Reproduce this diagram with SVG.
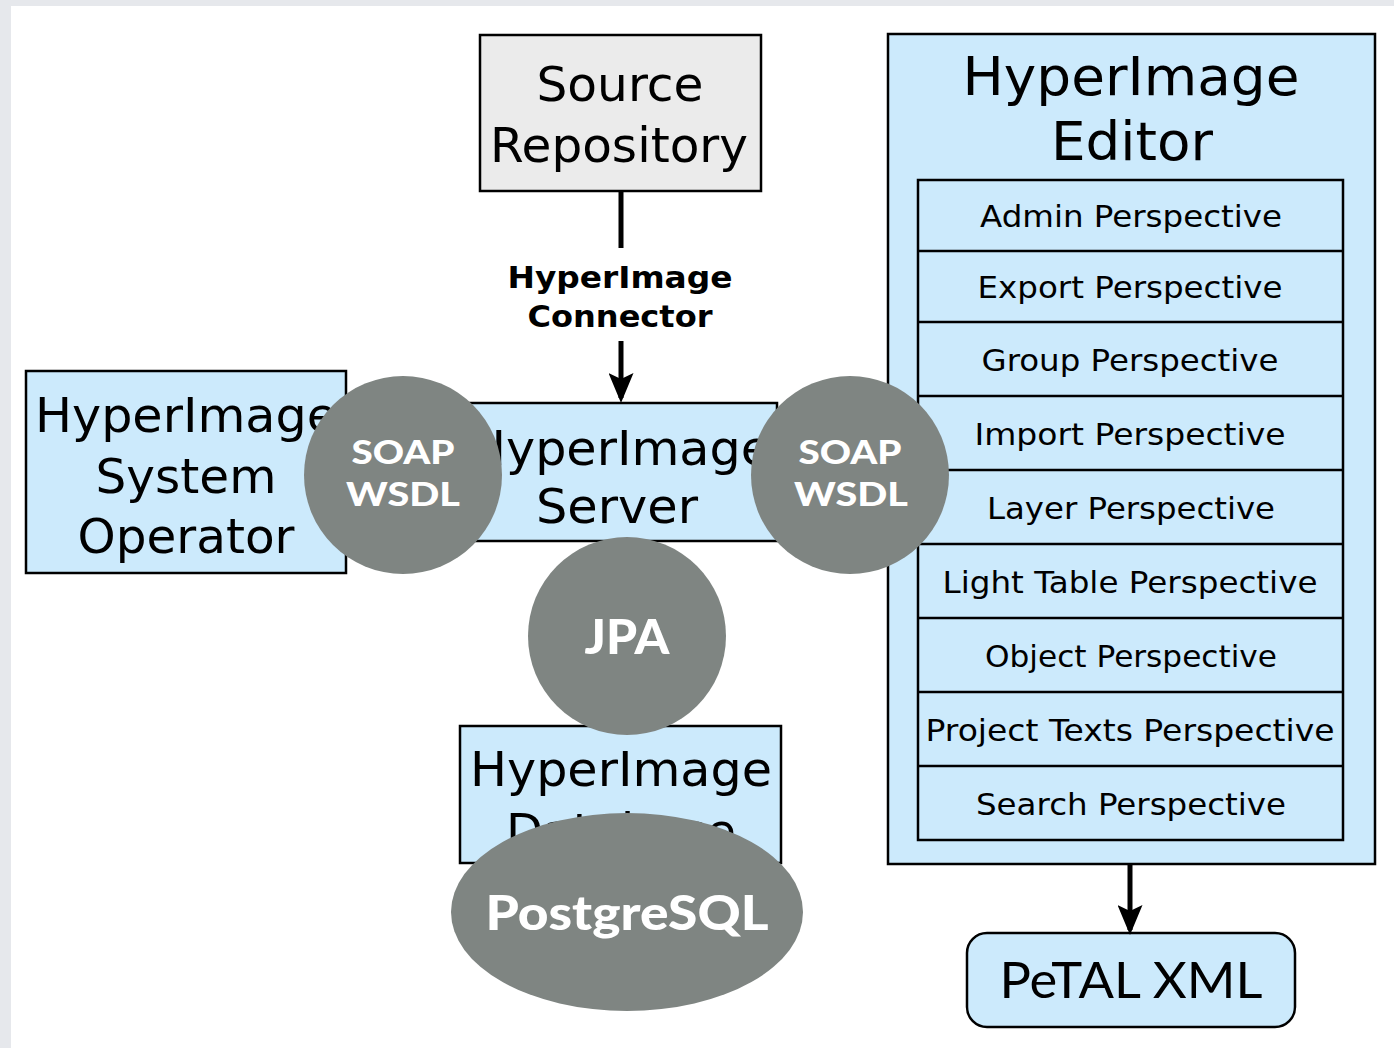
<svg xmlns="http://www.w3.org/2000/svg" width="1394" height="1048" viewBox="0 0 1394 1048">
<style>
.box{fill:#cceafc;stroke:#000;stroke-width:2.5}
.t{font-family:"DejaVu Sans",Verdana,sans-serif;fill:#000;text-anchor:middle}
.big{font-size:48px}
.mid{font-size:30px}
.bold{font-weight:bold;font-size:31px}
.blob{fill:#7f8582}
.w{font-family:Lato,"Open Sans",sans-serif;font-weight:900;fill:#fff;text-anchor:middle}
.ln{stroke:#000;stroke-width:5;fill:none}
</style>
<defs>
<marker id="ah" markerWidth="6" markerHeight="5" refX="5" refY="2.5" orient="auto" markerUnits="strokeWidth">
<path d="M0,0 L6,2.5 L0,5 L1.2,2.5 Z" fill="#000"/>
</marker>
</defs>
<rect x="0" y="0" width="1394" height="1048" fill="#e6e8ec"/>
<rect x="11" y="6" width="1383" height="1042" fill="#fff"/>

<g id="source">
<rect x="480" y="35" width="281" height="156" fill="#ebebeb" stroke="#000" stroke-width="2.5"/>
<text class="t big" x="620" y="101" textLength="167" lengthAdjust="spacingAndGlyphs">Source</text>
<text class="t big" x="619" y="162" textLength="258" lengthAdjust="spacingAndGlyphs">Repository</text>
</g>

<g id="editor">
<rect class="box" x="888" y="34" width="487" height="830"/>
<text class="t" style="font-size:54px" x="1131" y="95" textLength="337" lengthAdjust="spacingAndGlyphs">HyperImage</text>
<text class="t" style="font-size:54px" x="1132" y="160" textLength="162" lengthAdjust="spacingAndGlyphs">Editor</text>
<rect class="box" x="918" y="180" width="425" height="660"/>
<g stroke="#000" stroke-width="2.5">
<line x1="918" y1="251" x2="1343" y2="251"/>
<line x1="918" y1="322" x2="1343" y2="322"/>
<line x1="918" y1="396" x2="1343" y2="396"/>
<line x1="918" y1="470" x2="1343" y2="470"/>
<line x1="918" y1="544" x2="1343" y2="544"/>
<line x1="918" y1="618" x2="1343" y2="618"/>
<line x1="918" y1="692" x2="1343" y2="692"/>
<line x1="918" y1="766" x2="1343" y2="766"/>
</g>
<text class="t mid" x="1131" y="227" textLength="302" lengthAdjust="spacingAndGlyphs">Admin Perspective</text>
<text class="t mid" x="1130" y="298" textLength="305" lengthAdjust="spacingAndGlyphs">Export Perspective</text>
<text class="t mid" x="1130" y="371" textLength="297" lengthAdjust="spacingAndGlyphs">Group Perspective</text>
<text class="t mid" x="1130" y="445" textLength="311" lengthAdjust="spacingAndGlyphs">Import Perspective</text>
<text class="t mid" x="1131" y="519" textLength="288" lengthAdjust="spacingAndGlyphs">Layer Perspective</text>
<text class="t mid" x="1130" y="593" textLength="375" lengthAdjust="spacingAndGlyphs">Light Table Perspective</text>
<text class="t mid" x="1131" y="667" textLength="292" lengthAdjust="spacingAndGlyphs">Object Perspective</text>
<text class="t mid" x="1130" y="741" textLength="409" lengthAdjust="spacingAndGlyphs">Project Texts Perspective</text>
<text class="t mid" x="1131" y="815" textLength="310" lengthAdjust="spacingAndGlyphs">Search Perspective</text>
</g>

<g id="operator">
<rect class="box" x="26" y="371" width="320" height="202"/>
<text class="t big" x="186" y="432" textLength="302" lengthAdjust="spacingAndGlyphs">HyperImage</text>
<text class="t big" x="186" y="493" textLength="181" lengthAdjust="spacingAndGlyphs">System</text>
<text class="t big" x="186" y="553" textLength="217" lengthAdjust="spacingAndGlyphs">Operator</text>
</g>

<g id="server">
<rect class="box" x="467" y="403" width="310" height="138"/>
<text class="t big" x="620" y="465" textLength="302" lengthAdjust="spacingAndGlyphs">HyperImage</text>
<text class="t big" x="617" y="523" textLength="162" lengthAdjust="spacingAndGlyphs">Server</text>
</g>

<g id="database">
<rect class="box" x="460" y="726" width="321" height="137"/>
<text class="t big" x="621" y="786" textLength="302" lengthAdjust="spacingAndGlyphs">HyperImage</text>
<text class="t big" x="621" y="848" textLength="230" lengthAdjust="spacingAndGlyphs">Database</text>
</g>

<g id="petal">
<rect class="box" x="967" y="933" width="328" height="94" rx="20"/>
<text x="1131" y="998" textLength="263" lengthAdjust="spacingAndGlyphs" style="font-family:Lato,'Open Sans',sans-serif;font-size:50px;text-anchor:middle;fill:#000">PeTAL XML</text>
</g>

<g id="connectors">
<line class="ln" x1="621" y1="191" x2="621" y2="248"/>
<line class="ln" x1="621" y1="341" x2="621" y2="398" marker-end="url(#ah)"/>
<text class="t bold" x="620" y="288" textLength="225" lengthAdjust="spacingAndGlyphs">HyperImage</text>
<text class="t bold" x="620" y="327" textLength="185" lengthAdjust="spacingAndGlyphs">Connector</text>
<line class="ln" x1="1130" y1="864" x2="1130" y2="930" marker-end="url(#ah)"/>
</g>

<g id="soap-left">
<circle class="blob" cx="403" cy="475" r="99"/>
<text class="w" x="403" y="464" font-size="33" textLength="103" lengthAdjust="spacingAndGlyphs">SOAP</text>
<text class="w" x="403" y="506" font-size="33" textLength="114" lengthAdjust="spacingAndGlyphs">WSDL</text>
</g>
<g id="soap-right">
<circle class="blob" cx="850" cy="475" r="99"/>
<text class="w" x="850" y="464" font-size="33" textLength="103" lengthAdjust="spacingAndGlyphs">SOAP</text>
<text class="w" x="851" y="506" font-size="33" textLength="114" lengthAdjust="spacingAndGlyphs">WSDL</text>
</g>
<g id="jpa">
<circle class="blob" cx="627" cy="636" r="99"/>
<text class="w" x="627" y="654" font-size="48" textLength="85" lengthAdjust="spacingAndGlyphs">JPA</text>
</g>
<g id="postgres">
<ellipse class="blob" cx="627" cy="912" rx="176" ry="99"/>
<text class="w" x="627" y="930" font-size="48" textLength="283" lengthAdjust="spacingAndGlyphs">PostgreSQL</text>
</g>
</svg>
